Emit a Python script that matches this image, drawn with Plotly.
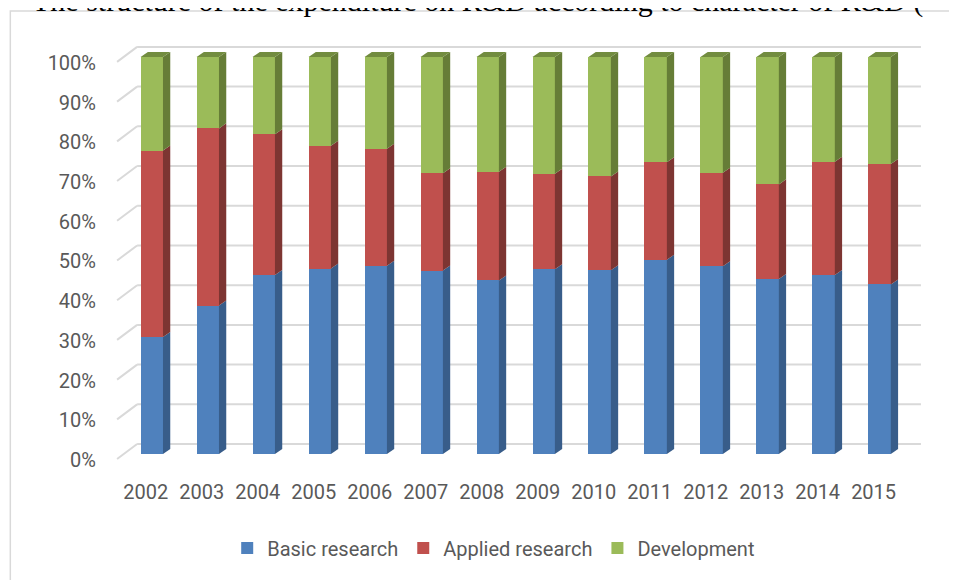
import plotly.graph_objects as go

years = list(range(2002, 2016))
basic = [29.5, 37.4, 45.1, 46.7, 47.4, 46.2, 43.7, 46.5, 46.3, 48.9, 47.3, 44.1, 45.1, 42.7]
applied = [46.9, 44.6, 35.4, 30.9, 29.5, 24.5, 27.4, 24.1, 23.6, 24.6, 23.5, 23.8, 28.5, 30.3]
development = [23.6, 18.0, 19.5, 22.4, 23.1, 29.3, 28.9, 29.4, 30.1, 26.5, 29.2, 32.1, 26.4, 27.0]
series_names = ["Basic research", "Applied research", "Development"]
y_ticks = list(range(0, 101, 10))
title_text = "The structure of the expenditure on R&D according to character of R&D ("

front_colors = ["#4f81bd", "#c0504d", "#9bbb59"]
side_colors = ["#385d8a", "#7d3532", "#667d37"]
top_color = "#728c3f"

O = 8  # page body margin offset
W, H = 957 - O, 580 - O
ML, MR, MT, MB = 107.2 - O, 26.6, 41.1 - O, 118.06
PW, PH = W - ML - MR, H - MT - MB

bar_w = 0.4
dx, dy = 0.13, 1.26          # bar depth (x in category units, y in % units)
bdx, bdy = 0.238, 2.52       # back wall offset
fdx, fdy = 0.12, 1.26        # floor front offset

fig = go.Figure()
all_vals = [basic, applied, development]
for name, vals, col in zip(series_names, all_vals, front_colors):
    fig.add_trace(go.Bar(x=years, y=vals, name=name, marker=dict(color=col, line=dict(width=0)),
                         width=bar_w))

shapes = []
x_left = years[0] - 0.5
x_right = years[-1] + 0.5
for v in y_ticks:
    shapes.append(dict(type="line", xref="x", yref="y", x0=x_left + bdx, x1=x_right + bdx,
                       y0=v + bdy, y1=v + bdy, line=dict(color="#d9d9d9", width=2), layer="below"))
    shapes.append(dict(type="line", xref="x", yref="y", x0=x_left - fdx, x1=x_left + bdx,
                       y0=v - fdy, y1=v + bdy, line=dict(color="#d9d9d9", width=2), layer="below"))

for i, yr in enumerate(years):
    base = 0.0
    xr = yr + bar_w / 2
    xl = yr - bar_w / 2
    for s, vals in enumerate(all_vals):
        top = base + vals[i]
        path = (f"M {xr},{base} L {xr + dx},{base + dy} L {xr + dx},{top + dy} L {xr},{top} Z")
        shapes.append(dict(type="path", xref="x", yref="y", path=path,
                           fillcolor=side_colors[s], line=dict(width=0), layer="above"))
        base = top
    path = (f"M {xl},{base} L {xl + dx},{base + dy} L {xr + dx},{base + dy} L {xr},{base} Z")
    shapes.append(dict(type="path", xref="x", yref="y", path=path,
                       fillcolor=top_color, line=dict(width=0), layer="above"))

def px2x(px):
    return (px - O - ML) / PW

def py2y(py):
    return (H - MB - (py - O)) / PH

shapes.append(dict(type="rect", xref="paper", yref="paper", x0=px2x(10.5), x1=px2x(990),
                   y0=py2y(620), y1=py2y(11), line=dict(color="#d9d9d9", width=1.5),
                   fillcolor="rgba(0,0,0,0)", layer="below"))

fig.update_layout(
    width=W, height=H, autosize=False,
    margin=dict(l=ML, r=MR, t=MT, b=MB, pad=0),
    paper_bgcolor="white", plot_bgcolor="white",
    barmode="stack", bargap=0.6,
    font=dict(family="Roboto, Open Sans, sans-serif", size=20, color="#595959"),
    xaxis=dict(range=[years[0] - 0.8, years[-1] + 0.9], tickvals=years, ticktext=[str(y) for y in years],
               showgrid=False, zeroline=False, showline=False, ticks="", ticklabelshift=-6,
               ticklabelstandoff=16, tickfont=dict(size=20, color="#595959")),
    yaxis=dict(range=[-2, 104], tickvals=y_ticks, ticktext=[f"{v}%" for v in y_ticks],
               showgrid=False, zeroline=False, showline=False, ticks="", ticklabelshift=6,
               ticklabelstandoff=10, tickfont=dict(size=20, color="#595959")),
    legend=dict(orientation="h", x=px2x(494), xanchor="center", y=py2y(548), yanchor="middle",
                font=dict(size=20, color="#595959"), traceorder="normal", bgcolor="rgba(0,0,0,0)"),
    shapes=shapes,
    annotations=[dict(text=title_text, xref="paper", yref="paper", x=px2x(478), y=py2y(20),
                      xanchor="center", yanchor="bottom", showarrow=False,
                      font=dict(family="Liberation Serif, Times New Roman, serif", size=30, color="black"))],
    showlegend=True,
)

fig.write_html("out.html")
